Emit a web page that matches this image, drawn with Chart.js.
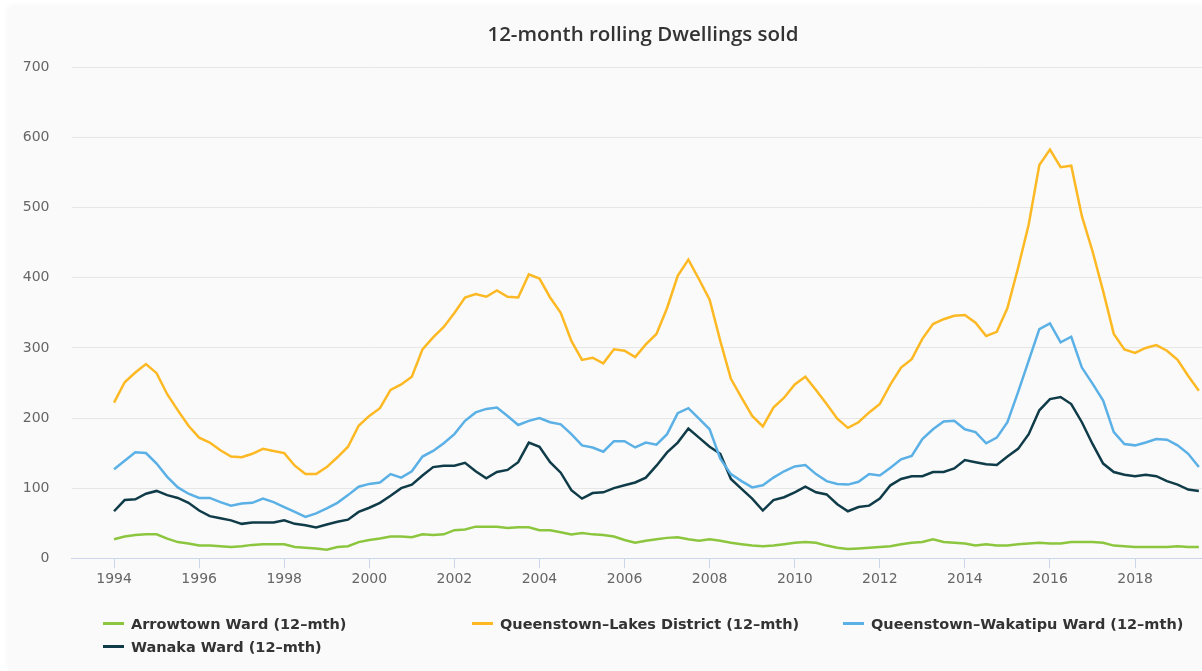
<!DOCTYPE html>
<html>
<head>
<meta charset="utf-8">
<script src="https://cdn.jsdelivr.net/npm/chart.js@4"></script>
<style>
  html, body { margin: 0; padding: 0; background: #fff; width: 1202px; height: 671px; overflow: hidden; }
  #wrap { position: absolute; left: 8px; top: 8px; width: 1270px; height: 663px; background: #fafafa; box-shadow: 0 -2px 6px rgba(0,0,0,0.04); }
  #legend { position: absolute; left: 103px; top: 614px; width: 1110px; display: grid; grid-template-columns: 369px 371px 370px; row-gap: 4px; }
  .item { display: flex; align-items: center; height: 19px; font: bold 14.5px "DejaVu Sans", sans-serif; color: #333; white-space: nowrap; }
  .item span.sym { display: inline-block; width: 21px; height: 2.5px; margin-right: 7px; }
</style>
</head>
<body>
<div id="wrap"><canvas id="dwellingsChart" width="1270" height="663"></canvas></div>
<div id="legend"></div>
<script>
// quarterly 12-month rolling totals, first value = 1994 Q1
var startYear = 1994;
var tickYears = [1994, 1996, 1998, 2000, 2002, 2004, 2006, 2008, 2010, 2012, 2014, 2016, 2018];

var arrowtown = [27, 31, 33, 34, 34, 28, 23, 21, 18, 18, 17, 16, 17, 19, 20, 20, 20, 16, 15, 14,
    12, 16, 17, 23, 26, 28, 31, 31, 30, 34, 33, 34, 40, 41, 45, 45, 45, 43, 44, 44,
    40, 40, 37, 34, 36, 34, 33, 31, 26, 22, 25, 27, 29, 30, 27, 25, 27, 25, 22, 20,
    18, 17, 18, 20, 22, 23, 22, 18, 15, 13, 14, 15, 16, 17, 20, 22, 23, 27, 23, 22,
    21, 18, 20, 18, 18, 20, 21, 22, 21, 21, 23, 23, 23, 22, 18, 17, 16, 16, 16, 16,
    17, 16, 16];

var queenstownLakes = [222, 251, 265, 277, 264, 234, 211, 189, 172, 165, 154, 145, 144, 149, 156, 153, 150, 132, 120, 120,
    130, 144, 159, 189, 203, 214, 240, 248, 259, 298, 315, 330, 350, 372, 377, 373, 382, 373, 372, 405,
    399, 372, 350, 310, 283, 286, 278, 298, 296, 287, 305, 320, 357, 403, 426, 398, 369, 310, 256, 229,
    203, 188, 215, 229, 248, 259, 240, 220, 199, 186, 194, 208, 220, 248, 272, 284, 313, 334, 341, 346,
    347, 336, 317, 323, 357, 414, 476, 561, 583, 558, 560, 488, 438, 381, 320, 298, 293, 300, 304, 296,
    283, 260, 239];

var wakatipu = [127, 139, 151, 150, 135, 116, 101, 92, 86, 86, 80, 75, 78, 79, 85, 80, 73, 66, 59, 64,
    71, 79, 90, 102, 106, 108, 120, 115, 124, 145, 153, 164, 177, 196, 208, 213, 215, 203, 190, 196,
    200, 194, 191, 177, 161, 158, 152, 167, 167, 158, 165, 162, 177, 207, 214, 199, 184, 142, 120, 110,
    101, 104, 115, 124, 131, 133, 120, 110, 106, 105, 109, 120, 118, 129, 141, 146, 170, 184, 195, 196,
    184, 180, 164, 172, 194, 237, 282, 327, 335, 308, 316, 272, 249, 225, 180, 163, 161, 165, 170, 169,
    161, 149, 130];

var wanaka = [67, 83, 84, 92, 96, 90, 86, 79, 68, 60, 57, 54, 49, 51, 51, 51, 54, 49, 47, 44,
    48, 52, 55, 66, 72, 79, 89, 100, 105, 118, 130, 132, 132, 136, 124, 114, 123, 126, 137, 165,
    159, 137, 122, 97, 85, 93, 94, 100, 104, 108, 115, 132, 151, 165, 185, 172, 159, 149, 113, 99,
    85, 68, 83, 87, 94, 102, 94, 91, 77, 67, 73, 75, 85, 104, 113, 117, 117, 123, 123, 128,
    140, 137, 134, 133, 145, 156, 177, 211, 227, 230, 220, 194, 163, 135, 123, 119, 117, 119, 117, 110,
    105, 98, 96];

function toPoints(values){
    return values.map(function(v, i){ return {x: startYear + i / 4, y: v}; });
}

function makeSet(label, values, color){
    return {
        label: label,
        data: toPoints(values),
        borderColor: color,
        backgroundColor: color,
        borderWidth: 2.5,
        pointRadius: 0,
        tension: 0,
        fill: false
    };
}

var ctx = document.getElementById("dwellingsChart").getContext('2d');
var chart = new Chart(ctx, {
    type: 'line',
    data: {
        datasets: [
            makeSet('Arrowtown Ward (12-mth)', arrowtown, '#8cc63f'),
            makeSet('Queenstown-Lakes District (12-mth)', queenstownLakes, '#fdb924'),
            makeSet('Queenstown-Wakatipu Ward (12-mth)', wakatipu, '#5bb0e6'),
            makeSet('Wanaka Ward (12-mth)', wanaka, '#0f3c48')
        ]
    },
    options: {
        responsive: false,
        animation: false,
        layout: { padding: { right: 0, bottom: 80 } },
        plugins: {
            legend: { display: false },
            tooltip: { enabled: false },
            title: {
                display: true,
                text: '12-month rolling Dwellings sold',
                color: '#333333',
                font: { family: '"Open Sans", sans-serif', size: 20.5, weight: '600' },
                padding: { top: 15, bottom: 20 }
            }
        },
        scales: {
            x: {
                type: 'linear',
                min: 1993,
                max: 2021.36,
                afterBuildTicks: function(scale){
                    scale.ticks = tickYears.map(function(y){ return {value: y}; });
                },
                grid: { drawOnChartArea: false, drawTicks: true, tickLength: 10, color: '#ccd6eb' },
                border: { color: '#ccd6eb', width: 1 },
                ticks: {
                    color: '#666666',
                    padding: 3,
                    maxRotation: 0,
                    autoSkip: false,
                    font: { family: '"DejaVu Sans", sans-serif', size: 14 },
                    callback: function(v){ return String(v); }
                }
            },
            y: {
                min: 0,
                max: 700,
                afterFit: function(scale){ scale.width = 63.5; },
                grid: { color: '#e6e6e6', drawTicks: false },
                border: { display: false },
                ticks: {
                    stepSize: 100,
                    color: '#666666',
                    padding: 22,
                    font: { family: '"DejaVu Sans", sans-serif', size: 14 }
                }
            }
        }
    }
});

// html legend in fixed-width columns
var legendBox = document.getElementById('legend');
chart.data.datasets.forEach(function(ds){
    var item = document.createElement('div');
    item.className = 'item';
    var sym = document.createElement('span');
    sym.className = 'sym';
    sym.style.background = ds.borderColor;
    item.appendChild(sym);
    item.appendChild(document.createTextNode(ds.label.replace(/-/g, '\u2013')));
    legendBox.appendChild(item);
});
</script>
</body>
</html>
